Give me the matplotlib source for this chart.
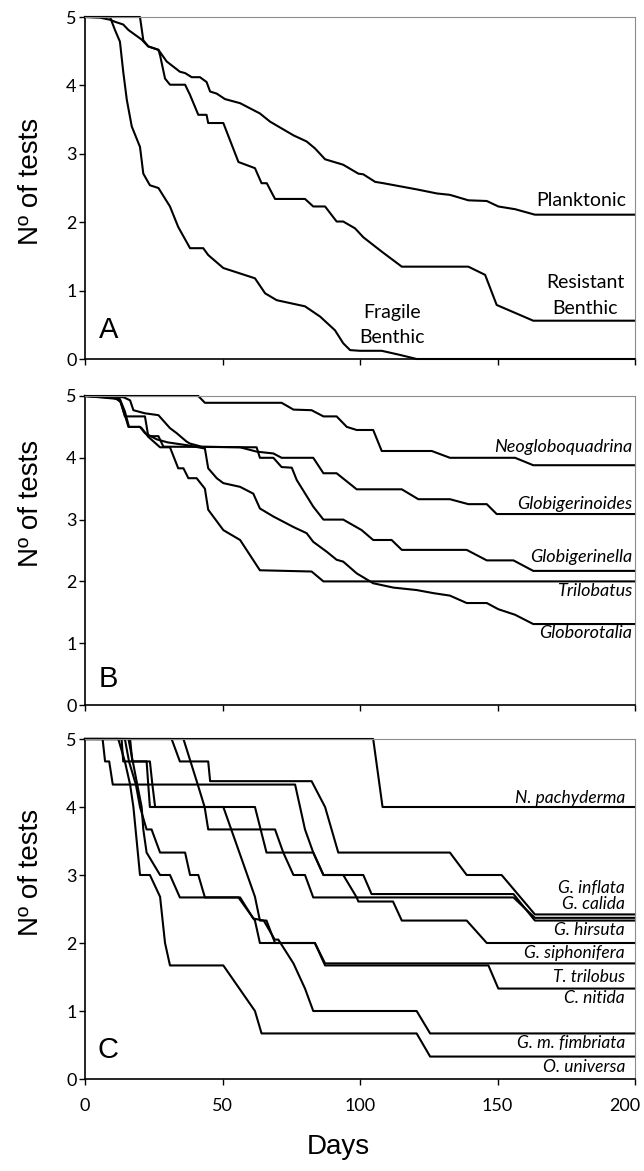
import matplotlib.pyplot as plt
from matplotlib.transforms import ScaledTranslation

# Panel A : groupes
planktonic_days = [0, 5.5, 9.1, 10.9, 13.9, 15.8, 18.2, 20.6, 23, 26.7, 29.7, 34.5, 36.4, 38.8, 41.8, 44.2, 45.5,
                   47.9, 50.9, 56.4, 63.6, 67.3, 75.8, 80.6, 83.6, 87.3, 93.9, 99.4, 101.2, 105.5, 108.5, 120.6,
                   128, 132.7, 139.4, 146.1, 150.3, 156.4, 163.6, 200]
planktonic_tests = [5, 4.99, 4.96, 4.93, 4.89, 4.81, 4.74, 4.67, 4.57, 4.52, 4.35, 4.20, 4.18, 4.12, 4.12, 4.05, 3.91,
                    3.88, 3.80, 3.74, 3.59, 3.47, 3.27, 3.18, 3.08, 2.92, 2.84, 2.71, 2.70, 2.59, 2.57, 2.48,
                    2.42, 2.40, 2.32, 2.31, 2.23, 2.19, 2.11, 2.11]
resistant_days = [0, 20, 21.2, 23, 26.7, 27.3, 29.1, 30.9, 36.4, 38.2, 41.2, 44.2, 44.8, 50.3, 55.8, 61.8, 64.2,
                  66.1, 69.1, 80, 83, 87.3, 91.5, 93.9, 98.2, 101.2, 107.9, 115.2, 139.4, 145.5, 149.7, 163, 200]
resistant_tests = [5, 5, 4.66, 4.57, 4.52, 4.44, 4.10, 4.01, 4.01, 3.86, 3.57, 3.57, 3.45, 3.45, 2.88, 2.79, 2.57,
                   2.57, 2.34, 2.34, 2.23, 2.23, 2.01, 2.01, 1.91, 1.78, 1.57, 1.35, 1.35, 1.23, 0.79, 0.56, 0.56]
fragile_days = [0, 9.1, 10.9, 12.7, 13.9, 15.2, 17, 20, 21.2, 23.6, 26.7, 30.9, 33.9, 38.2, 43, 44.8, 50.3, 61.8,
                65.5, 69.7, 80, 85.5, 90.9, 93.9, 96.4, 100, 107.9, 114.5, 120.6, 200]
fragile_tests = [5, 5, 4.81, 4.64, 4.2, 3.79, 3.40, 3.10, 2.71, 2.54, 2.50, 2.23, 1.93, 1.62, 1.62, 1.52, 1.33, 1.18,
                 0.96, 0.86, 0.77, 0.62, 0.42, 0.23, 0.13, 0.12, 0.12, 0.06, 0, 0]

# Panel B : genres
neoglo_days = [0, 41.2, 43.6, 71.5, 75.8, 82.4, 86.7, 91.5, 95.2, 98.8, 104.8, 107.9, 126.1, 132.7, 156.4, 163, 200]
neoglo_tests = [5, 5, 4.89, 4.89, 4.78, 4.77, 4.67, 4.67, 4.50, 4.45, 4.45, 4.11, 4.11, 4.0, 4.0, 3.88, 3.88]
gloides_days = [0, 14, 16.4, 17.6, 21.8, 26.7, 30.9, 33.3, 37, 38.2, 42.4, 56.4, 62.4, 68.5, 71.5, 83, 86.7, 91.5,
                98.8, 115.2, 121.2, 132.7, 139.4, 146.1, 149.7, 200]
gloides_tests = [5, 4.98, 4.93, 4.77, 4.72, 4.69, 4.48, 4.40, 4.26, 4.23, 4.18, 4.17, 4.10, 4.07, 4.0, 4.0, 3.75,
                 3.75, 3.49, 3.49, 3.33, 3.33, 3.25, 3.25, 3.09, 3.09]
gella_days = [0, 11, 13, 14.5, 21.8, 23, 26.7, 28.5, 62.4, 63.6, 68.5, 71.5, 75.2, 77, 83, 86.7, 93.9, 100.6,
              104.8, 111.5, 115.2, 138.8, 146.1, 155.8, 163, 200]
gella_tests = [5, 4.97, 4.9, 4.67, 4.67, 4.35, 4.35, 4.18, 4.17, 4.0, 4.0, 3.85, 3.84, 3.64, 3.21, 3.0, 3.0, 2.83,
               2.67, 2.67, 2.51, 2.51, 2.34, 2.34, 2.17, 2.17]
trilo_days = [0, 9.7, 12.7, 14.5, 15.8, 20, 20.6, 23, 27.3, 30.9, 33.9, 35.8, 37.6, 40.6, 43.6, 44.8, 50.3, 56.4,
              63.6, 82.4, 86.7, 200]
trilo_tests = [5, 4.98, 4.93, 4.69, 4.5, 4.5, 4.48, 4.34, 4.17, 4.17, 3.83, 3.83, 3.67, 3.67, 3.5, 3.16, 2.83, 2.67,
               2.18, 2.16, 2.0, 2.0]
rotalia_days = [0, 12.7, 14.5, 16, 20, 21.8, 26, 30, 37.6, 43.6, 44.8, 47.9, 50.3, 56.4, 61.2, 63.6, 68.5, 75.8,
                80.6, 83, 87.9, 91.5, 93.9, 98.8, 104.8, 112.1, 120.6, 126.7, 132.7, 138.8, 146.1, 150.3, 156.4,
                163, 200]
rotalia_tests = [5, 4.95, 4.75, 4.5, 4.5, 4.4, 4.3, 4.25, 4.2, 4.15, 3.83, 3.67, 3.59, 3.53, 3.42, 3.18, 3.05, 2.88,
                 2.78, 2.64, 2.48, 2.35, 2.32, 2.13, 1.97, 1.90, 1.86, 1.81, 1.77, 1.65, 1.65, 1.55, 1.46, 1.31,
                 1.31]

# Panel C : especes
pachy_days = [0, 104.8, 108.2, 200]
pachy_tests = [5, 5, 4.0, 4.0]
inflata_days = [0, 31.5, 34.5, 44.8, 45.5, 82.4, 87.3, 92.1, 132.7, 138.8, 151.5, 163.6, 200]
inflata_tests = [5, 5, 4.67, 4.67, 4.38, 4.38, 4.0, 3.33, 3.33, 3.0, 3.0, 2.42, 2.42]
calida_days = [0, 35.8, 41, 43.5, 44.8, 69.1, 72.1, 75.8, 80, 83, 155.8, 163.6, 200]
calida_tests = [5, 5, 4.33, 4.0, 3.67, 3.67, 3.33, 3.0, 3.0, 2.67, 2.67, 2.37, 2.37]
third_days = [0, 13.3, 13.9, 22.4, 23, 23.6, 61.8, 66, 83, 86.7, 101.2, 104.2, 155.8, 163.6, 200]
third_tests = [5, 5, 4.67, 4.67, 4.33, 4.0, 4.0, 3.33, 3.33, 3.0, 3.0, 2.72, 2.72, 2.33, 2.33]
hirsuta_days = [0, 6.4, 7.3, 8.8, 10.1, 76.4, 80, 83, 86.7, 93.9, 98.8, 99.4, 112, 115.2, 138.8, 146.1, 200]
hirsuta_tests = [5, 5, 4.67, 4.67, 4.33, 4.33, 3.67, 3.33, 3.0, 3.0, 2.67, 2.61, 2.61, 2.33, 2.33, 2.0, 2.0]
siphon_days = [0, 16.4, 17.2, 23.6, 24.5, 25.5, 50.3, 61.8, 63.6, 66, 69.1, 83.6, 87.3, 200]
siphon_tests = [5, 5, 4.67, 4.67, 4.33, 4.0, 4.0, 2.68, 2.33, 2.33, 2.0, 2.0, 1.70, 1.70]
nitida_days = [0, 15.8, 19, 20.6, 21.2, 22.4, 27.3, 30.9, 34.5, 55.8, 61.8, 63.6, 83.6, 87.3, 146.7, 150.3, 200]
nitida_tests = [5, 5, 4.33, 4.0, 3.67, 3.33, 3.0, 3.0, 2.67, 2.67, 2.33, 2.0, 2.0, 1.67, 1.67, 1.33, 1.33]
fimbr_days = [0, 14.5, 16, 18.5, 20, 22.4, 24.2, 27.3, 36.4, 38.2, 41.2, 43.6, 56.4, 61.2, 65, 69, 70.3, 75.8, 80,
              83, 120.6, 125.5, 200]
fimbr_tests = [5, 5, 4.67, 4.33, 4.0, 3.67, 3.67, 3.33, 3.33, 3.0, 3.0, 2.67, 2.67, 2.36, 2.33, 2.05, 2.05, 1.70,
               1.33, 1.0, 1.0, 0.67, 0.67]
universa_days = [0, 12.1, 14.5, 16.4, 17.6, 20, 23.6, 27.3, 29.1, 30.9, 50.3, 61.8, 64.2, 120.6, 125.5, 200]
universa_tests = [5, 5, 4.67, 4.33, 4.0, 3.0, 3.0, 2.68, 2.0, 1.67, 1.67, 1.0, 0.67, 0.67, 0.33, 0.33]

panel_a = [(planktonic_days, planktonic_tests), (resistant_days, resistant_tests), (fragile_days, fragile_tests)]
panel_b = [(neoglo_days, neoglo_tests), (gloides_days, gloides_tests), (gella_days, gella_tests),
           (trilo_days, trilo_tests), (rotalia_days, rotalia_tests)]
panel_c = [(pachy_days, pachy_tests), (inflata_days, inflata_tests), (calida_days, calida_tests),
           (third_days, third_tests), (hirsuta_days, hirsuta_tests), (siphon_days, siphon_tests),
           (nitida_days, nitida_tests), (fimbr_days, fimbr_tests), (universa_days, universa_tests)]

labels_b = [("Neogloboquadrina", 4.18), ("Globigerinoides", 3.26), ("Globigerinella", 2.40),
            ("Trilobatus", 1.84), ("Globorotalia", 1.17)]
labels_c = [("N. pachyderma", 4.13), ("G. inflata", 2.81), ("G. calida", 2.58), ("G. hirsuta", 2.19),
            ("G. siphonifera", 1.85), ("T. trilobus", 1.50), ("C. nitida", 1.19),
            ("G. m. fimbriata", 0.53), ("O. universa", 0.18)]

tick_font = "Lato"
title_font = "Liberation Sans"

fig = plt.figure(figsize=(6.44, 11.71), dpi=100)
W, H = 644.0, 1171.0
x0, x1 = 85, 635
# (haut, bas) en pixels
boxes = [(17, 359), (396, 705), (739, 1079)]
axes = []
for top, bottom in boxes:
    ax = fig.add_axes([x0 / W, 1 - bottom / H, (x1 - x0) / W, (bottom - top) / H])
    axes.append(ax)

for i, (ax, series) in enumerate(zip(axes, [panel_a, panel_b, panel_c])):
    for days, tests in series:
        ax.plot(days, tests, color="black", lw=1.5, clip_on=False, solid_joinstyle="round")
    ax.set_xlim(0, 200)
    ax.set_ylim(0, 5)
    ax.set_xticks([0, 50, 100, 150, 200])
    ax.set_yticks([0, 1, 2, 3, 4, 5])
    ax.tick_params(direction="out", length=4, width=1, color="black", labelsize=13, pad=2)
    for lab in ax.get_yticklabels() + ax.get_xticklabels():
        lab.set_fontfamily(tick_font)
    if i < 2:
        ax.tick_params(labelbottom=False)
    ax.spines["left"].set_linewidth(1.2)
    ax.spines["bottom"].set_linewidth(1.2)
    for s in ("top", "right"):
        ax.spines[s].set_color("#8c8c8c")
        ax.spines[s].set_linewidth(0.8)
    ax.text(8.5, 0.42, "ABC"[i], fontsize=21, family=title_font, ha="center", va="center")

axes[2].tick_params(axis="x", pad=10)
# le dernier libelle (200) est decale vers la gauche pour rester dans la figure
last = axes[2].get_xticklabels()[-1]
last.set_transform(last.get_transform() + ScaledTranslation(-0.10, 0, fig.dpi_scale_trans))

# etiquettes du panneau A
ax = axes[0]
ax.text(196.7, 2.31, "Planktonic", family=tick_font, fontsize=14, ha="right", va="center")
ax.text(181.8, 1.12, "Resistant", family=tick_font, fontsize=14, ha="center", va="center")
ax.text(181.8, 0.74, "Benthic", family=tick_font, fontsize=14, ha="center", va="center")
ax.text(111.5, 0.68, "Fragile", family=tick_font, fontsize=14, ha="center", va="center")
ax.text(111.5, 0.32, "Benthic", family=tick_font, fontsize=14, ha="center", va="center")

for name, y in labels_b:
    axes[1].text(199, y, name, family=tick_font, style="italic", fontsize=13, ha="right", va="center")
for name, y in labels_c:
    axes[2].text(196.4, y, name, family=tick_font, style="italic", fontsize=12.5, ha="right", va="center")

for yc in (181, 503, 872):
    fig.text(31 / W, 1 - yc / H, "Nº of tests", family=title_font, fontsize=20, rotation=90,
             ha="center", va="center")
fig.text(338 / W, 1 - 1147 / H, "Days", family=title_font, fontsize=20, ha="center", va="center")

fig.savefig("out.png", dpi=100)
